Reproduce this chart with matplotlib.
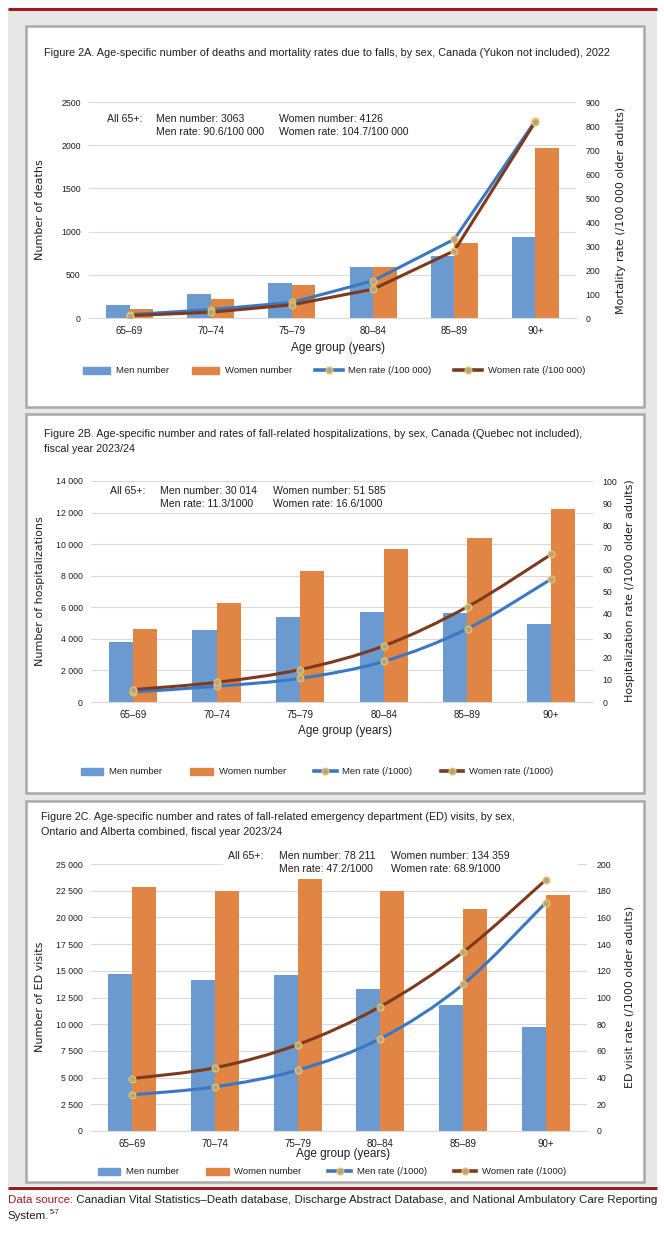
import numpy as np
import matplotlib
matplotlib.use('Agg')
import matplotlib.pyplot as plt
from matplotlib.path import Path
from matplotlib.patches import PathPatch, Rectangle, Patch
from matplotlib.lines import Line2D
from matplotlib import font_manager as fm

# ---------------- data ----------------
ages = ['65–69', '70–74', '75–79', '80–84', '85–89', '90+']

a_men_num = [150, 273, 400, 596, 712, 938]
a_women_num = [108, 219, 381, 585, 873, 1962]
a_men_rate = [14, 35, 65, 155, 328, 822]
a_women_rate = [10, 24, 55, 120, 280, 818]

b_men_num = [3790, 4590, 5370, 5670, 5630, 4970]
b_women_num = [4650, 6270, 8280, 9680, 10420, 12230]
b_men_rate = [4.5, 7.1, 10.7, 18.4, 33.2, 55.6]
b_women_rate = [5.6, 8.9, 14.7, 25.4, 43.1, 66.8]

c_men_num = [14720, 14100, 14630, 13310, 11780, 9740]
c_women_num = [22870, 22490, 23620, 22490, 20830, 22090]
c_men_rate = [27.1, 33.1, 45.6, 69.2, 109.8, 170.9]
c_women_rate = [39.3, 47.4, 64.7, 93.2, 134.0, 188.0]

a_left_ticks = [0, 500, 1000, 1500, 2000, 2500]
a_left_labels = ['0', '500', '1000', '1500', '2000', '2500']
a_right_ticks = list(range(0, 901, 100))
b_left_ticks = list(range(0, 14001, 2000))
b_left_labels = ['0', '2 000', '4 000', '6 000', '8 000', '10 000', '12 000', '14 000']
b_right_ticks = list(range(0, 101, 10))
c_left_ticks = list(range(0, 25001, 2500))
c_left_labels = ['0', '2 500', '5 000', '7 500', '10 000', '12 500', '15 000',
                 '17 500', '20 000', '22 500', '25 000']
c_right_ticks = list(range(0, 201, 20))

# ---------------- style ----------------
names = {f.name for f in fm.fontManager.ttflist}
NFAM = 'Liberation Sans Narrow' if 'Liberation Sans Narrow' in names else 'Liberation Sans'
NARROW = dict(family=NFAM)
WIDE = dict(family='DejaVu Sans')

MEN_C = '#6A9AD0'
WOMEN_C = '#E08543'
MEN_L = '#3A78C3'
WOMEN_L = '#7D3A1C'
GRID = '#D9D9D9'
TXT = '#1E1E1E'
MK = dict(marker='o', markersize=4.8, markerfacecolor='#A5A5A5',
          markeredgecolor='#F2C14E', markeredgewidth=1.0)

W, H = 664, 1235
fig = plt.figure(figsize=(W / 100, H / 100), dpi=100)

bg = fig.add_axes([0, 0, 1, 1])
bg.set_xlim(0, W)
bg.set_ylim(H, 0)
bg.axis('off')

bg.add_patch(Rectangle((8, 10), 649, 1176, facecolor='#E7E7E7', edgecolor='none', zorder=0))
bg.plot([8, 657], [9, 9], color='#9A1C20', lw=2.2, solid_capstyle='butt', zorder=1)
bg.plot([8, 657], [1188, 1188], color='#9A1C20', lw=2.2, solid_capstyle='butt', zorder=1)
for top, bot in [(26, 407), (414, 793), (801, 1182)]:
    bg.add_patch(Rectangle((26, top), 618, bot - top, facecolor='white',
                           edgecolor='#A9A9A9', lw=1.8, zorder=1))


def add_axes_px(l, t, r, b):
    return fig.add_axes([l / W, 1 - b / H, (r - l) / W, (b - t) / H])


def smooth_path(xs, ys):
    pts = np.column_stack([xs, ys]).astype(float)
    n = len(pts)
    verts = [pts[0]]
    codes = [Path.MOVETO]
    for i in range(n - 1):
        p0 = pts[max(i - 1, 0)]
        p1 = pts[i]
        p2 = pts[i + 1]
        p3 = pts[min(i + 2, n - 1)]
        verts += [p1 + (p2 - p0) / 6, p2 - (p3 - p1) / 6, p2]
        codes += [Path.CURVE4] * 3
    return Path(verts, codes)


def panel(box, men, women, mr, wr, lticks, llabels, rticks, smooth):
    ax = add_axes_px(*box)
    x = np.arange(len(ages))
    w = 0.29
    ax.bar(x - w / 2, men, w, color=MEN_C, zorder=2)
    ax.bar(x + w / 2, women, w, color=WOMEN_C, zorder=2)
    ax.set_xlim(-0.5, len(ages) - 0.5)
    ax.set_ylim(lticks[0], lticks[-1])
    ax.set_yticks(lticks)
    ax.set_yticklabels(llabels, fontsize=6.3, color=TXT, **NARROW)
    ax.set_xticks(x)
    ax.set_xticklabels(ages, fontsize=7, color=TXT, **NARROW)
    ax.grid(axis='y', color=GRID, lw=0.8)
    ax.set_axisbelow(True)
    for s in ['top', 'right', 'left']:
        ax.spines[s].set_visible(False)
    ax.spines['bottom'].set_color(GRID)
    ax.tick_params(axis='both', length=0)
    ax.tick_params(axis='y', pad=6)
    ax.tick_params(axis='x', pad=6)

    ax2 = ax.twinx()
    ax2.set_ylim(rticks[0], rticks[-1])
    ax2.set_yticks(rticks)
    ax2.set_yticklabels([str(t) for t in rticks], fontsize=6.3, color=TXT, **NARROW)
    ax2.tick_params(axis='y', length=0, pad=7)
    for s in ax2.spines.values():
        s.set_visible(False)
    for vals, col in [(mr, MEN_L), (wr, WOMEN_L)]:
        if smooth:
            ax2.add_patch(PathPatch(smooth_path(x, vals), fill=False, edgecolor=col,
                                    lw=2.2, capstyle='round', zorder=3))
            ax2.plot(x, vals, linestyle='none', zorder=4, **MK)
        else:
            ax2.plot(x, vals, color=col, lw=2.2, zorder=3, **MK)
    return ax, ax2


legends = []


def legend(left, right, cy, rate_unit, hlen):
    handles = [Patch(color=MEN_C), Patch(color=WOMEN_C),
               Line2D([], [], color=MEN_L, lw=2.6, **MK),
               Line2D([], [], color=WOMEN_L, lw=2.6, **MK)]
    labels = ['Men number', 'Women number', f'Men rate ({rate_unit})', f'Women rate ({rate_unit})']
    lg = fig.legend(handles, labels, loc='center',
                    bbox_to_anchor=((left + right) / 2 / W, 1 - cy / H),
                    ncol=4, frameon=False, handlelength=hlen, handleheight=0.75,
                    handletextpad=0.6, columnspacing=4.0, borderpad=0, borderaxespad=0,
                    prop=fm.FontProperties(size=6.8, **NARROW), labelcolor=TXT)
    legends.append((lg, right - left))


texts_fit = []


def ftext(x, y, s, size=8.5, font=NARROW, fit=None, **kw):
    t = fig.text(x / W, 1 - y / H, s, fontsize=size, color=TXT, va='center', **font, **kw)
    if fit is not None:
        texts_fit.append((t, fit))
    return t


def annotation_block(xs, y1, y2, lines):
    ts = []
    ts.append(ftext(xs[0], y1, 'All 65+:', 7.6))
    ts.append(ftext(xs[1], y1, lines[0], 7.6))
    ts.append(ftext(xs[2], y1, lines[1], 7.6))
    ts.append(ftext(xs[1], y2, lines[2], 7.6))
    ts.append(ftext(xs[2], y2, lines[3], 7.6))
    return ts


# ---------------- Panel A ----------------
panel((89, 102, 576, 318), a_men_num, a_women_num, a_men_rate, a_women_rate,
      a_left_ticks, a_left_labels, a_right_ticks, smooth=False)
ftext(44, 53, 'Figure 2A. Age-specific number of deaths and mortality rates due to falls, '
      'by sex, Canada (Yukon not included), 2022', fit=558)
annotation_block((107, 156, 279), 119, 132,
                 ['Men number: 3063', 'Women number: 4126',
                  'Men rate: 90.6/100 000', 'Women rate: 104.7/100 000'])
ftext(40, 210, 'Number of deaths', 8, WIDE, rotation=90, ha='center')
ftext(621, 210, 'Mortality rate (/100 000 older adults)', 8, WIDE, rotation=90, ha='center')
ftext(338, 348, 'Age group (years)', 8.5, ha='center')
legend(85, 583, 371, '/100 000', 2.9)

# ---------------- Panel B ----------------
panel((91, 481, 593, 702), b_men_num, b_women_num, b_men_rate, b_women_rate,
      b_left_ticks, b_left_labels, b_right_ticks, smooth=True)
tb = ftext(44, 434, 'Figure 2B. Age-specific number and rates of fall-related hospitalizations, '
           'by sex, Canada (Quebec not included),', fit=531)
tb2 = ftext(44, 449, 'fiscal year 2023/24')
annotation_block((110, 160, 273), 491, 504,
                 ['Men number: 30 014', 'Women number: 51 585',
                  'Men rate: 11.3/1000', 'Women rate: 16.6/1000'])
ftext(40, 591, 'Number of hospitalizations', 8, WIDE, rotation=90, ha='center')
ftext(630, 591, 'Hospitalization rate (/1000 older adults)', 8, WIDE, rotation=90, ha='center')
ftext(345, 731, 'Age group (years)', 8.5, ha='center')
legend(83, 551, 772, '/1000', 2.4)

# ---------------- Panel C ----------------
axc, _ = panel((91, 864, 587, 1131), c_men_num, c_women_num, c_men_rate, c_women_rate,
               c_left_ticks, c_left_labels, c_right_ticks, smooth=True)
axc.add_patch(Rectangle(((223 - 91) / 496, 0.97), (578 - 223) / 496, 0.06,
                        transform=axc.transAxes, facecolor='white', edgecolor='none',
                        zorder=1, clip_on=False))
tc = ftext(41, 817, 'Figure 2C. Age-specific number and rates of fall-related emergency '
           'department (ED) visits, by sex,', fit=465)
tc2 = ftext(41, 832, 'Ontario and Alberta combined, fiscal year 2023/24')
annotation_block((228, 279, 391), 856, 869,
                 ['Men number: 78 211', 'Women number: 134 359',
                  'Men rate: 47.2/1000', 'Women rate: 68.9/1000'])
ftext(40, 997, 'Number of ED visits', 8, WIDE, rotation=90, ha='center')
ftext(630, 997, 'ED visit rate (/1000 older adults)', 8, WIDE, rotation=90, ha='center')
ftext(343, 1154, 'Age group (years)', 8.5, ha='center')
legend(100, 564, 1172, '/1000', 2.4)

# ---------------- Data source ----------------
t1 = bg.text(8, 1200, 'Data source:', fontsize=9.5, color='#A0172E', va='center', **NARROW)
t1b = bg.annotate(' Canadian Vital Statistics–Death database, Discharge Abstract Database, '
                  'and National Ambulatory Care Reporting', xy=(1, 0.5), xycoords=t1,
                  va='center', ha='left', fontsize=9.5, color=TXT, **NARROW)
t2 = bg.text(8, 1216, 'System.', fontsize=9.5, color=TXT, va='center', **NARROW)
t2b = bg.annotate('5-7', xy=(1, 0.85), xycoords=t2, va='center', ha='left',
                  fontsize=5.5, color=TXT, **NARROW)

# ---------------- size fitting to reference widths ----------------
fig.canvas.draw()
r = fig.canvas.get_renderer()
for t, target in texts_fit:
    wpx = t.get_window_extent(renderer=r).width
    t.set_fontsize(t.get_fontsize() * target / wpx)
tb2.set_fontsize(tb.get_fontsize())
tc2.set_fontsize(tc.get_fontsize())

wsrc = t1.get_window_extent(renderer=r).width + t1b.get_window_extent(renderer=r).width
k = 648 / wsrc
for t in (t1, t1b, t2):
    t.set_fontsize(t.get_fontsize() * k)
t2b.set_fontsize(t2b.get_fontsize() * k)

for _ in range(3):
    fig.canvas.draw()
    for lg, target in legends:
        wpx = lg.get_window_extent(renderer=r).width
        fs_px = lg.prop.get_size_in_points() * 100 / 72
        lg._legend_box.sep = lg._legend_box.sep  # keep
        cs = lg.columnspacing + (target - wpx) / (3 * fs_px)
        lg.columnspacing = cs
        for col in lg._legend_handle_box.get_children():
            pass
        lg._legend_handle_box.sep = cs * fs_px

fig.savefig('out.png', dpi=100)
